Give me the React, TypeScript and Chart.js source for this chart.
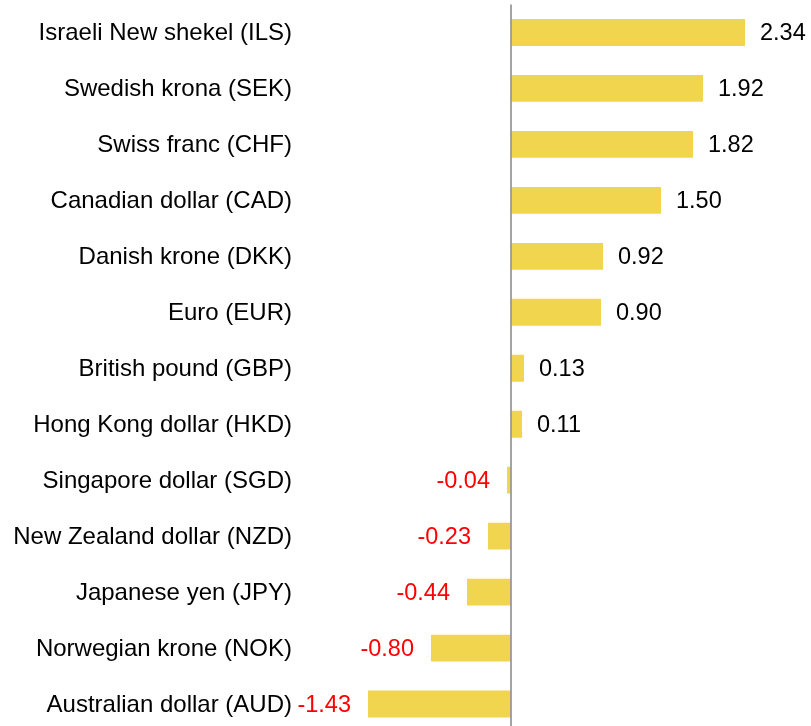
import React, { useEffect, useRef } from "react";
import { Chart, registerables } from "chart.js";

Chart.register(...registerables);

const categories = [
  "Israeli New shekel (ILS)",
  "Swedish krona (SEK)",
  "Swiss franc (CHF)",
  "Canadian dollar (CAD)",
  "Danish krone (DKK)",
  "Euro (EUR)",
  "British pound (GBP)",
  "Hong Kong dollar (HKD)",
  "Singapore dollar (SGD)",
  "New Zealand dollar (NZD)",
  "Japanese yen (JPY)",
  "Norwegian krone (NOK)",
  "Australian dollar (AUD)",
];

const values = [2.34, 1.92, 1.82, 1.5, 0.92, 0.9, 0.13, 0.11, -0.04, -0.23, -0.44, -0.8, -1.43];

const FONT = "'Liberation Sans', Arial, sans-serif";

const zeroLinePlugin = {
  id: "zeroLine",
  afterDatasetsDraw(chart: any) {
    const { ctx, chartArea, scales } = chart;
    const x = scales.x.getPixelForValue(0);
    ctx.save();
    ctx.strokeStyle = "#9a9a9a";
    ctx.lineWidth = 1.8;
    ctx.beginPath();
    ctx.moveTo(x, chartArea.top);
    ctx.lineTo(x, chartArea.bottom);
    ctx.stroke();
    ctx.restore();
  },
};

const labelPlugin = {
  id: "labels",
  afterDatasetsDraw(chart: any) {
    const { ctx, scales } = chart;
    const meta = chart.getDatasetMeta(0);
    ctx.save();
    ctx.textBaseline = "middle";
    categories.forEach((c, i) => {
      const y = scales.y.getPixelForValue(i) + 1;
      ctx.font = `24px ${FONT}`;
      ctx.fillStyle = "#000000";
      ctx.textAlign = "right";
      ctx.fillText(c, 292, y);
    });
    meta.data.forEach((bar: any, i: number) => {
      const v = values[i];
      const text = v.toFixed(2);
      ctx.font = `23.5px ${FONT}`;
      if (v >= 0) {
        ctx.fillStyle = "#000000";
        ctx.textAlign = "left";
        ctx.fillText(text, bar.x + 15, bar.y + 1);
      } else {
        ctx.fillStyle = "#ff0000";
        ctx.textAlign = "right";
        ctx.fillText(text, bar.x - 17, bar.y + 1);
      }
    });
    ctx.restore();
  },
};

export default function App() {
  const ref = useRef<HTMLCanvasElement | null>(null);

  useEffect(() => {
    document.body.style.margin = "0";
    document.body.style.overflow = "hidden";
    if (!ref.current) return;
    const chart = new Chart(ref.current, {
      type: "bar",
      data: {
        labels: categories,
        datasets: [
          {
            data: values,
            backgroundColor: "#f2d54e",
            borderWidth: 0,
            barPercentage: 0.96,
            categoryPercentage: 0.5,
          },
        ],
      },
      options: {
        indexAxis: "y",
        animation: false,
        responsive: false,
        maintainAspectRatio: false,
        layout: { padding: { top: 4.5, right: 0, bottom: 0, left: 297 } },
        plugins: {
          legend: { display: false },
          tooltip: { enabled: false },
        },
        scales: {
          x: {
            display: false,
            min: -2.14,
            max: 3.0,
          },
          y: {
            display: false,
          },
        },
      },
      plugins: [zeroLinePlugin, labelPlugin],
    });
    return () => chart.destroy();
  }, []);

  return (
    <div style={{ width: 811, height: 726, overflow: "hidden", background: "#fff" }}>
      <canvas ref={ref} width={811} height={732} style={{ display: "block" }} />
    </div>
  );
}
